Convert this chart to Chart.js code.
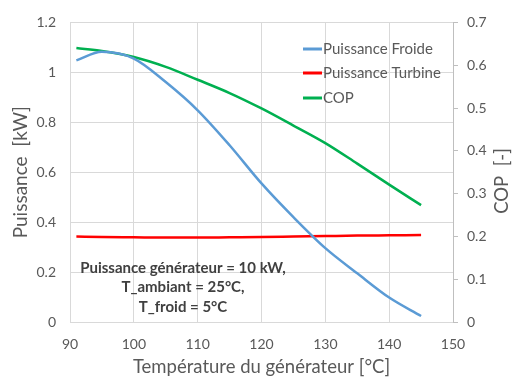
<!DOCTYPE html>
<html>
<head>
<meta charset="utf-8">
<script src="https://cdn.jsdelivr.net/npm/chart.js@4/dist/chart.umd.min.js"></script>
<style>
html,body{margin:0;padding:0;background:#fff;}
#wrap{width:512px;height:378px;position:relative;}
</style>
</head>
<body>
<div id="wrap"><canvas id="c" width="512" height="378"></canvas></div>
<script>
// Data
const temperatures = [91, 95, 100, 105, 110, 115, 120, 125, 130, 135, 140, 145];
const puissanceFroide = [1.048, 1.082, 1.055, 0.961, 0.848, 0.708, 0.555, 0.420, 0.296, 0.195, 0.098, 0.024];
const puissanceTurbine = [0.342, 0.340, 0.339, 0.338, 0.338, 0.339, 0.340, 0.342, 0.344, 0.346, 0.347, 0.348];
const cop = [0.640, 0.633, 0.619, 0.596, 0.566, 0.535, 0.499, 0.459, 0.418, 0.370, 0.321, 0.273];
const seriesNames = ['Puissance Froide', 'Puissance Turbine', 'COP'];
const seriesColors = ['#5b9bd5', '#ff0000', '#00b050'];
const xTicks = [90, 100, 110, 120, 130, 140, 150];
const annotationLines = ['Puissance générateur = 10 kW,', 'T_ambiant = 25°C,', 'T_froid = 5°C'];
const leftTitle = 'Puissance  [kW]';
const rightTitle = 'COP  [-]';
const xTitle = 'Température du générateur [°C]';

const FONT = 'Lato, "Open Sans", sans-serif';
const TXT = '#595959';

function pts(ys){ return temperatures.map((t,i)=>({x:t,y:ys[i]})); }

const legendPlugin = {
  id: 'customLegend',
  afterDraw(chart){
    const ctx = chart.ctx;
    ctx.save();
    ctx.font = '15px ' + FONT;
    ctx.textBaseline = 'middle';
    ctx.textAlign = 'left';
    const ys = [49, 73, 98];
    chart.data.datasets.forEach((ds,i)=>{
      ctx.strokeStyle = ds.borderColor;
      ctx.lineWidth = 3;
      ctx.beginPath();
      ctx.moveTo(303, ys[i]); ctx.lineTo(322, ys[i]); ctx.stroke();
      ctx.fillStyle = TXT;
      ctx.fillText(ds.label, 323, ys[i]);
    });
    // annotation
    ctx.font = 'bold 15px ' + FONT;
    ctx.fillStyle = '#404040';
    ctx.textAlign = 'center';
    const ay = [268, 287, 307];
    annotationLines.forEach((l,i)=>ctx.fillText(l, 183, ay[i]));
    // right title rotated -90
    ctx.font = '18.5px ' + FONT;
    ctx.fillStyle = TXT;
    ctx.translate(502, 181);
    ctx.rotate(-Math.PI/2);
    ctx.textAlign = 'center';
    ctx.fillText(rightTitle, 0, 0);
    ctx.restore();
  }
};

new Chart(document.getElementById('c'), {
  type: 'line',
  data: {
    datasets: [
      {label: seriesNames[0], data: pts(puissanceFroide), borderColor: seriesColors[0], yAxisID: 'y', borderWidth: 2.5, pointRadius: 0, cubicInterpolationMode: 'monotone'},
      {label: seriesNames[1], data: pts(puissanceTurbine), borderColor: seriesColors[1], yAxisID: 'y', borderWidth: 2.5, pointRadius: 0, cubicInterpolationMode: 'monotone'},
      {label: seriesNames[2], data: pts(cop), borderColor: seriesColors[2], yAxisID: 'y2', borderWidth: 2.5, pointRadius: 0, cubicInterpolationMode: 'monotone'}
    ]
  },
  options: {
    responsive: false,
    animation: false,
    layout: {padding: {top: 22, left: 0, right: 0, bottom: 0}},
    plugins: {legend: {display: false}, tooltip: {enabled: false}},
    scales: {
      x: {
        type: 'linear', min: 90, max: 150,
        afterBuildTicks(s){ s.ticks = xTicks.map(v=>({value:v})); },
        afterFit(s){ s.height = 56; },
        grid: {color: '#d9d9d9', drawTicks: false},
        border: {color: '#d9d9d9'},
        ticks: {color: TXT, font: {family: FONT, size: 14}, padding: 14, maxRotation: 0},
        title: {display: true, text: xTitle, color: TXT, font: {family: FONT, size: 18.5}, padding: {top: 0, bottom: 0}}
      },
      y: {
        position: 'left', min: 0, max: 1.2,
        afterFit(s){ s.width = 70; },
        grid: {color: '#d9d9d9', drawTicks: false},
        border: {color: '#d9d9d9'},
        ticks: {stepSize: 0.2, color: TXT, font: {family: FONT, size: 14}, padding: 14,
          callback: v => (Math.round(v*10)/10).toString()},
        title: {display: true, text: leftTitle, color: TXT, font: {family: FONT, size: 19}, padding: {top: 9, bottom: 0}}
      },
      y2: {
        position: 'right', min: 0, max: 0.7,
        afterFit(s){ s.width = 59; },
        grid: {drawOnChartArea: false, color: '#bfbfbf', tickLength: 5},
        border: {color: '#bfbfbf'},
        ticks: {stepSize: 0.1, color: TXT, font: {family: FONT, size: 14}, padding: 9,
          callback: v => (Math.round(v*10)/10).toString()}
      }
    }
  },
  plugins: [legendPlugin]
});
</script>
</body>
</html>
